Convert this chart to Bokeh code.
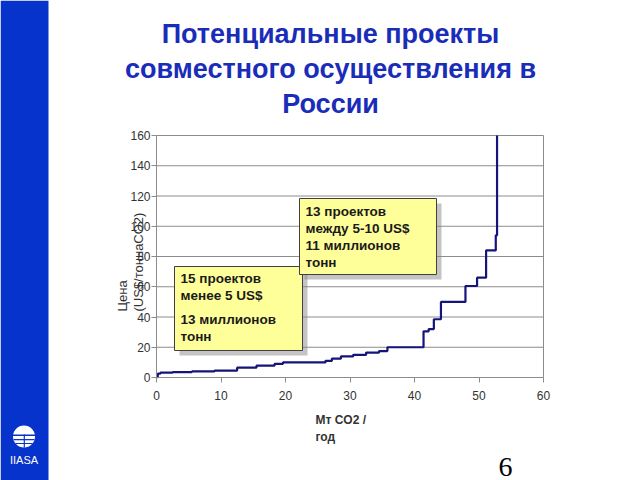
import math
from bokeh.plotting import figure
from bokeh.models import Range1d, FixedTicker, Label, BoxAnnotation, LinearAxis
from bokeh.embed import file_html
from bokeh.resources import INLINE

# ---- data (cumulative Mt CO2 / year vs price US$/t CO2, step curve) ----
mt = [0, 0.2, 0.6, 2.5, 5.5, 9, 12.5, 15.5, 18.3, 19.6, 26.2, 27.2, 28.6,
      30.5, 32.5, 34.5, 35.8, 41.4, 42.2, 43, 44.1, 47.9, 49.7, 51.1, 52.6, 52.8]
price = [0.3, 2.5, 3.2, 3.6, 4, 4.6, 6.5, 7.8, 9, 10, 11, 12.5, 14,
         15, 16.5, 17.5, 20, 30.5, 32, 38.5, 50, 60.5, 66, 84, 94, 160]
x_ticks = [0, 10, 20, 30, 40, 50, 60]
y_ticks = [0, 20, 40, 60, 80, 100, 120, 140, 160]

title_lines = ["Потенциальные проекты", "совместного осуществления в", "России"]
ylabel_lines = ["Цена", "(US$/тоннаCO2)"]
xlabel_lines = ["Мт CO2 /", "год"]
box1_lines = ["15 проектов", "менее 5 US$", "13 миллионов", "тонн"]
box2_lines = ["13 проектов", "между 5-10 US$", "11 миллионов", "тонн"]

BLUE = "#0633CC"
TITLE_BLUE = "#1A2DB8"
FONT = "Liberation Sans"
GRAY = "#8c8c8c"

# ---- page geometry (pixels); the figure's frame is the whole page ----
W, H = 640, 480
PX0, PX1 = 156, 543      # pixel x of data x = 0 and x = 60
PY0, PY1 = 377, 135      # pixel y of data y = 0 and y = 160
XMIN, XMAX, YMIN, YMAX = 0, 60, 0, 160
sx_unit = (PX1 - PX0) / (XMAX - XMIN)
sy_unit = (PY0 - PY1) / (YMAX - YMIN)
x_range = Range1d(XMIN - PX0 / sx_unit, XMIN + (W - PX0) / sx_unit)
y_range = Range1d(YMIN - (H - PY0) / sy_unit, YMIN + PY0 / sy_unit)

p = figure(width=W, height=H, x_range=x_range, y_range=y_range,
           x_axis_type=None, y_axis_type=None, toolbar_location=None,
           output_backend="svg", min_border=0)
p.outline_line_color = None
p.background_fill_color = "white"
p.border_fill_color = "white"

# horizontal grid lines and right plot border, spanning only the plot area
grid_y = y_ticks[1:]
p.segment(x0=[XMIN] * len(grid_y), y0=grid_y, x1=[XMAX] * len(grid_y), y1=grid_y,
          line_color=GRAY, line_width=1)
p.segment(x0=[XMAX], y0=[YMIN], x1=[XMAX], y1=[YMAX], line_color=GRAY, line_width=1)

# axes fixed at the data origin (library axes)
xaxis = LinearAxis(fixed_location=0, bounds=(XMIN, XMAX), ticker=FixedTicker(ticks=x_ticks))
yaxis = LinearAxis(fixed_location=0, bounds=(YMIN, YMAX), ticker=FixedTicker(ticks=y_ticks))
for ax in (xaxis, yaxis):
    ax.axis_line_color = GRAY
    ax.major_tick_line_color = GRAY
    ax.minor_tick_line_color = None
    ax.major_tick_in = 0
    ax.major_tick_out = 5
    ax.major_label_text_font = FONT
    ax.major_label_text_font_size = "12px"
    ax.major_label_text_color = "#333333"
xaxis.major_label_standoff = 8
yaxis.major_label_standoff = 1
p.add_layout(xaxis, "below")
p.add_layout(yaxis, "left")

p.step(x=mt, y=price, mode="after", line_color="#14147A", line_width=2.2)


def box(left, right, top, bottom, **kw):
    # pixel coordinates measured from the page's top-left corner
    p.add_layout(BoxAnnotation(left=left, right=right, bottom=H - bottom, top=H - top,
                               left_units="screen", right_units="screen",
                               bottom_units="screen", top_units="screen", **kw))


def text(x, y, txt, size="13.5px", style="bold", color="#1a1a1a", align="left",
         baseline="middle", angle=0.0, font=FONT):
    p.add_layout(Label(x=x, y=H - y, x_units="screen", y_units="screen", text=txt,
                       text_font=font, text_font_size=size, text_font_style=style,
                       text_color=color, text_align=align, text_baseline=baseline, angle=angle))


def note(left, right, top, bottom):
    box(left + 5, right + 5, top + 5, bottom + 5, fill_color="#8a8a8a", fill_alpha=0.5,
        line_color=None)
    box(left, right, top, bottom, fill_color="#FFFF99", fill_alpha=1.0,
        line_color="#404040", line_width=1, line_alpha=1.0)


# sidebar with logo
box(0, 48, 0, H, fill_color=BLUE, fill_alpha=1.0, line_color=None)
box(12.5, 34.5, 425, 447, fill_color="white", fill_alpha=1.0, line_color=None, border_radius=11)
box(12, 35, 434, 435.5, fill_color=BLUE, fill_alpha=1.0, line_color=None)
box(13, 34, 438.5, 439.7, fill_color=BLUE, fill_alpha=1.0, line_color=None)
box(15, 32, 442.5, 443.5, fill_color=BLUE, fill_alpha=1.0, line_color=None)
box(23.2, 24.4, 434, 447, fill_color=BLUE, fill_alpha=1.0, line_color=None)
text(23.5, 459, "IIASA", size="11px", style="normal", color="white", align="center")

# annotation notes
note(174, 302, 266, 350)
for txt, cy in zip(box1_lines, [278, 295, 319, 336]):
    text(180, cy, txt)
note(299, 436, 198, 274)
for txt, cy in zip(box2_lines, [211, 228, 245, 262]):
    text(305, cy, txt)

# title
for txt, base in zip(title_lines, [33, 68, 103]):
    text(330, base, txt, size="27px", color=TITLE_BLUE, align="center", baseline="alphabetic")

# axis labels
for txt, cx in zip(ylabel_lines, [122, 138]):
    text(cx, 311, txt, size="13px", style="normal", color="#333333", angle=math.pi / 2)
for txt, cy in zip(xlabel_lines, [419, 436]):
    text(315, cy, txt, size="12px", color="#333333")

# page number
text(505, 466, "6", size="28px", style="normal", color="black", align="center",
     font="Liberation Serif")

open("out.html", "w").write(file_html(p, INLINE))
